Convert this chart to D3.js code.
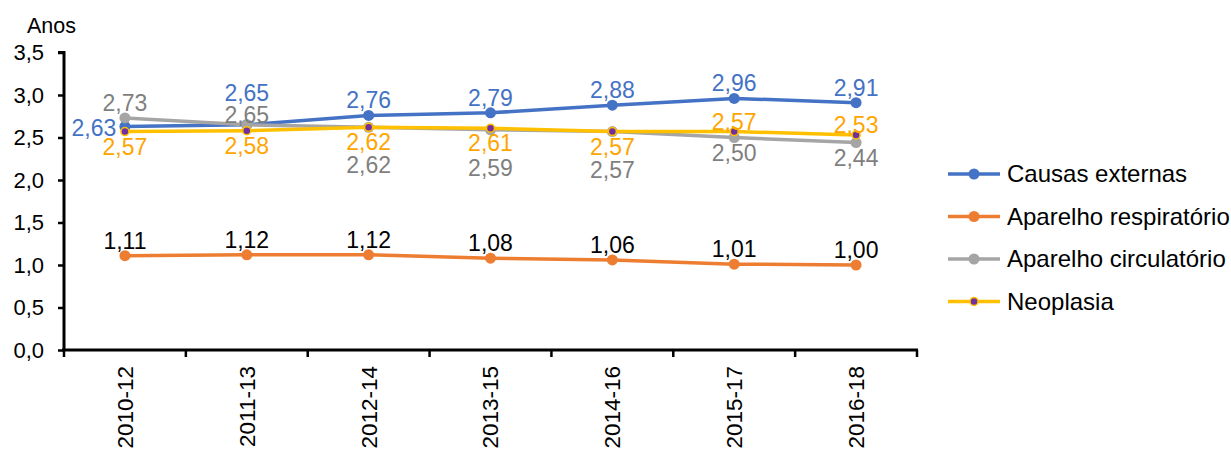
<!DOCTYPE html>
<html>
<head>
<meta charset="utf-8">
<script src="https://cdn.jsdelivr.net/npm/d3@7"></script>
<style>
  body { margin: 0; background: #fff; }
  text { font-family: "Liberation Sans", Arial, sans-serif; }
</style>
</head>
<body>
<div id="chart"></div>
<script>
var periods = ["2010-12", "2011-13", "2012-14", "2013-15", "2014-16", "2015-17", "2016-18"];
var causasExternas = [2.63, 2.65, 2.76, 2.79, 2.88, 2.96, 2.91];
var aparelhoRespiratorio = [1.11, 1.12, 1.12, 1.08, 1.06, 1.01, 1.00];
var aparelhoCirculatorio = [2.73, 2.65, 2.62, 2.59, 2.57, 2.50, 2.44];
var neoplasia = [2.57, 2.58, 2.62, 2.61, 2.57, 2.57, 2.53];
var seriesNames = ["Causas externas", "Aparelho respiratório", "Aparelho circulatório", "Neoplasia"];
var yTicks = [0, 0.5, 1, 1.5, 2, 2.5, 3, 3.5];

(function() {
  var width = 1231;
  var height = 452;

  var svg = d3.select("#chart")
    .append("svg")
    .attr("width", width)
    .attr("height", height);

  var x = d3.scaleBand().domain(periods).range([64, 917]);
  var y = d3.scaleLinear().domain([0, 3.5]).range([350, 52.5]);
  var cx = function(p) { return x(p) + x.bandwidth() / 2; };
  var fmt = function(v) { return d3.format(".2f")(v).replace(".", ","); };

  // label placement offsets (dx, dy of label centre from the point)
  var place = {
    above: [0, -15], high: [0, -32], near: [0, -10],
    below: [0, 15], under: [0, 38], left: [-31, 1]
  };

  var series = [
    { name: seriesNames[0], values: causasExternas, color: "#4472c4", label: "#4472c4",
      pos: ["left", "high", "above", "above", "above", "above", "above"] },
    { name: seriesNames[1], values: aparelhoRespiratorio, color: "#ed7d31", label: "#000",
      pos: ["above", "above", "above", "above", "above", "above", "above"] },
    { name: seriesNames[2], values: aparelhoCirculatorio, color: "#a5a5a5", label: "#7f7f7f",
      pos: ["above", "near", "under", "under", "under", "below", "below"] },
    { name: seriesNames[3], values: neoplasia, color: "#ffc000", label: "#ffa500",
      pos: ["below", "below", "below", "below", "below", "near", "near"], neo: true }
  ];

  // y axis
  var yAxis = svg.append("g")
    .attr("transform", "translate(64,0)")
    .call(d3.axisLeft(y).tickValues(yTicks).tickSize(6).tickPadding(14)
      .tickFormat(function(d) { return d3.format(".1f")(d).replace(".", ","); }));
  yAxis.select(".domain").attr("stroke", "#000").attr("stroke-width", 3).attr("d", "M-6,52.5H0V350");
  yAxis.selectAll(".tick line").attr("stroke", "#000").attr("stroke-width", 2.5);
  yAxis.selectAll(".tick text").attr("font-size", 22).attr("fill", "#000");

  svg.append("text").attr("x", 27).attr("y", 33).attr("font-size", 21.5).text("Anos");

  // x axis
  var xg = svg.append("g");
  xg.append("line").attr("x1", 62).attr("x2", 918).attr("y1", 350).attr("y2", 350)
    .attr("stroke", "#000").attr("stroke-width", 3);
  var bounds = periods.map(function(p) { return x(p); }).concat([x.range()[1]]);
  xg.selectAll(".xt").data(bounds).enter().append("line")
    .attr("x1", function(d) { return d; }).attr("x2", function(d) { return d; })
    .attr("y1", 350).attr("y2", 357)
    .attr("stroke", "#000").attr("stroke-width", 2.5);
  xg.selectAll(".xl").data(periods).enter().append("text")
    .attr("transform", function(d) { return "translate(" + cx(d) + ",366) rotate(-90)"; })
    .attr("text-anchor", "end").attr("dy", "0.35em")
    .attr("font-size", 22.5).text(function(d) { return d; });

  var line = d3.line()
    .x(function(d, i) { return cx(periods[i]); })
    .y(function(d) { return y(d); });

  series.forEach(function(s) {
    var g = svg.append("g");
    g.append("path").datum(s.values).attr("d", line)
      .attr("fill", "none").attr("stroke", s.color).attr("stroke-width", 3.5);
    g.selectAll("circle").data(s.values).enter().append("circle")
      .attr("cx", function(d, i) { return cx(periods[i]); })
      .attr("cy", function(d) { return y(d); })
      .attr("r", s.neo ? 4 : 5.5)
      .attr("fill", s.neo ? "#7030a0" : s.color)
      .attr("stroke", s.neo ? s.color : "none")
      .attr("stroke-width", 1.5);
  });

  series.forEach(function(s) {
    svg.append("g").selectAll("text").data(s.values).enter().append("text")
      .attr("x", function(d, i) { return cx(periods[i]) + place[s.pos[i]][0]; })
      .attr("y", function(d, i) { return y(d) + place[s.pos[i]][1]; })
      .attr("dy", "0.35em")
      .attr("text-anchor", "middle")
      .attr("font-size", 23)
      .attr("fill", s.label)
      .text(fmt);
  });

  // legend
  var leg = svg.append("g").selectAll("g").data(series).enter().append("g")
    .attr("transform", function(d, i) { return "translate(948," + (174 + i * 42.5) + ")"; });
  leg.append("line").attr("x1", 0).attr("x2", 52).attr("y1", 0).attr("y2", 0)
    .attr("stroke", function(d) { return d.color; }).attr("stroke-width", 3.5);
  leg.append("circle").attr("cx", 26).attr("cy", 0)
    .attr("r", function(d) { return d.neo ? 4 : 5.5; })
    .attr("fill", function(d) { return d.neo ? "#7030a0" : d.color; })
    .attr("stroke", function(d) { return d.neo ? d.color : "none"; })
    .attr("stroke-width", 1.5);
  leg.append("text").attr("x", 59).attr("dy", "0.35em").attr("font-size", 24)
    .text(function(d) { return d.name; });
})();
</script>
</body>
</html>
